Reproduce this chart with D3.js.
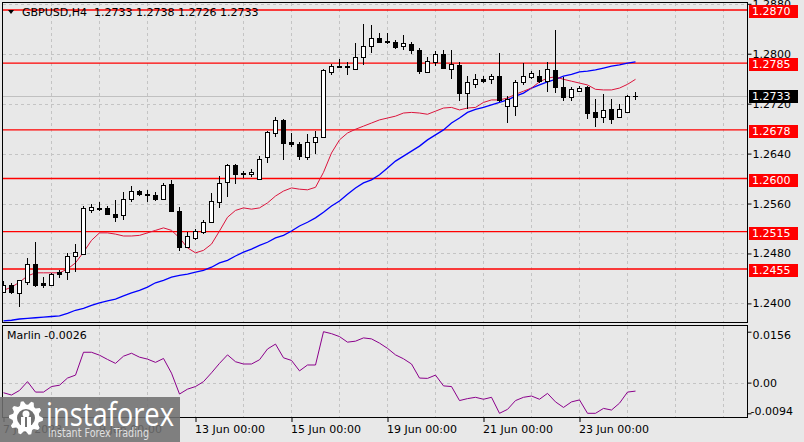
<!DOCTYPE html>
<html><head><meta charset="utf-8">
<script src="https://cdn.jsdelivr.net/npm/d3@7"></script>
<style>
html,body{margin:0;padding:0;background:#e8e8e8;}
svg{display:block;font-family:"DejaVu Sans",sans-serif;}
</style></head>
<body><svg id="c" width="804" height="442"></svg>
<script>
// ---- data ----
const symbol = "GBPUSD,H4";
const headerOHLC = "1.2733 1.2738 1.2726 1.2733";
const open = [1.2419,1.2430,1.2417,1.2434,1.2463,1.2432,1.2430,1.2451,1.2450,1.2476,
1.2479,1.2549,1.2553,1.2553,1.2543,1.2541,1.2567,1.2580,1.2575,1.2574,
1.2567,1.2591,1.2548,1.2490,1.2505,1.2515,1.2530,1.2562,1.2594,1.2622,
1.2609,1.2607,1.2600,1.2634,1.2673,1.2694,1.2658,1.2656,1.2635,1.2658,
1.2666,1.2771,1.2779,1.2781,1.2776,1.2794,1.2813,1.2825,1.2820,1.2819,
1.2813,1.2815,1.2806,1.2771,1.2786,1.2799,1.2776,1.2782,1.2737,1.2752,
1.2759,1.2759,1.2765,1.2717,1.2717,1.2754,1.2763,1.2765,1.2757,1.2774,
1.2747,1.2731,1.2741,1.2746,1.2706,1.2698,1.2711,1.2698,1.2707,1.2733];
const high = [1.2436,1.2433,1.2438,1.2472,1.2498,1.2443,1.2448,1.2453,1.2481,1.2495,
1.2556,1.2559,1.2562,1.2556,1.2566,1.2578,1.2588,1.2582,1.2582,1.2578,
1.2593,1.2597,1.2554,1.2514,1.2519,1.2533,1.2577,1.2604,1.2623,1.2623,
1.2612,1.2615,1.2636,1.2676,1.2699,1.2695,1.2673,1.2659,1.2671,1.2676,
1.2775,1.2783,1.2791,1.2787,1.2817,1.2848,1.2846,1.2834,1.2834,1.2822,
1.2830,1.2818,1.2809,1.2795,1.2804,1.2806,1.2806,1.2786,1.2764,1.2767,
1.2765,1.2767,1.2801,1.2733,1.2758,1.2785,1.2773,1.2774,1.2786,1.2838,
1.2763,1.2747,1.2749,1.2748,1.2728,1.2735,1.2727,1.2720,1.2734,1.2738];
const low = [1.2416,1.2415,1.2394,1.2429,1.2427,1.2424,1.2429,1.2440,1.2438,1.2450,
1.2477,1.2545,1.2548,1.2541,1.2531,1.2533,1.2562,1.2572,1.2562,1.2564,
1.2566,1.2546,1.2484,1.2489,1.2501,1.2511,1.2529,1.2553,1.2570,1.2591,
1.2601,1.2603,1.2599,1.2625,1.2666,1.2630,1.2650,1.2630,1.2630,1.2639,
1.2665,1.2766,1.2777,1.2766,1.2775,1.2782,1.2801,1.2817,1.2815,1.2808,
1.2806,1.2799,1.2767,1.2770,1.2781,1.2776,1.2759,1.2725,1.2711,1.2745,
1.2753,1.2751,1.2723,1.2689,1.2700,1.2750,1.2760,1.2753,1.2739,1.2737,
1.2725,1.2725,1.2739,1.2695,1.2683,1.2689,1.2687,1.2697,1.2705,1.2726];
const close = [1.2429,1.2419,1.2437,1.2463,1.2430,1.2430,1.2447,1.2447,1.2476,1.2482,
1.2553,1.2554,1.2552,1.2543,1.2539,1.2567,1.2580,1.2575,1.2574,1.2567,
1.2590,1.2548,1.2490,1.2508,1.2516,1.2530,1.2564,1.2593,1.2622,1.2607,
1.2607,1.2610,1.2632,1.2674,1.2694,1.2657,1.2656,1.2636,1.2659,1.2666,
1.2774,1.2780,1.2781,1.2778,1.2794,1.2813,1.2826,1.2819,1.2818,1.2811,
1.2817,1.2806,1.2773,1.2789,1.2799,1.2777,1.2783,1.2737,1.2755,1.2759,
1.2757,1.2764,1.2726,1.2727,1.2755,1.2765,1.2769,1.2757,1.2775,1.2747,
1.2730,1.2744,1.2745,1.2705,1.2699,1.2710,1.2696,1.2711,1.2732,1.2733];
const maFast = [1.2421,1.2426,1.2434,1.2444,1.2449,1.2449,1.2449,1.2449,1.2455,1.2465,
1.2482,1.2501,1.2513,1.2513,1.2511,1.2508,1.2508,1.2509,1.2513,1.2517,
1.2521,1.2517,1.2505,1.2489,1.2481,1.2485,1.2495,1.2516,1.2538,1.2549,
1.2553,1.2551,1.2553,1.2561,1.2572,1.2580,1.2585,1.2583,1.2582,1.2586,
1.2610,1.2641,1.2662,1.2673,1.2679,1.2684,1.2689,1.2694,1.2697,1.2700,
1.2705,1.2706,1.2705,1.2703,1.2708,1.2713,1.2714,1.2710,1.2713,1.2714,
1.2722,1.2726,1.2726,1.2729,1.2735,1.2740,1.2745,1.2755,1.2761,1.2763,
1.2759,1.2756,1.2753,1.2750,1.2743,1.2742,1.2742,1.2745,1.2751,1.2759];
const maSlow = [1.2372,1.2373,1.2375,1.2376,1.2377,1.2378,1.2379,1.2380,1.2384,1.2389,
1.2392,1.2397,1.2401,1.2404,1.2407,1.2412,1.2417,1.2421,1.2426,1.2433,
1.2437,1.2442,1.2445,1.2447,1.2450,1.2453,1.2458,1.2465,1.2469,1.2476,
1.2482,1.2487,1.2493,1.2498,1.2505,1.2509,1.2516,1.2524,1.2530,1.2537,
1.2546,1.2556,1.2564,1.2575,1.2585,1.2593,1.2598,1.2606,1.2617,1.2628,
1.2636,1.2644,1.2652,1.2662,1.2670,1.2678,1.2689,1.2697,1.2706,1.2711,
1.2714,1.2718,1.2722,1.2726,1.2732,1.2737,1.2745,1.2750,1.2755,1.2759,
1.2764,1.2767,1.2771,1.2772,1.2774,1.2777,1.2780,1.2782,1.2785,1.2787];
const marlin = [-0.0031,-0.0038,-0.0024,0.0003,-0.0029,-0.0029,-0.0012,-0.0008,0.0014,0.0023,
0.0093,0.0093,0.0084,0.0071,0.0059,0.0081,0.0090,0.0078,0.0072,0.0062,
0.0074,0.0029,-0.0035,-0.0020,-0.0012,0.0003,0.0030,0.0059,0.0085,0.0064,
0.0057,0.0057,0.0070,0.0103,0.0118,0.0076,0.0068,0.0036,0.0054,0.0054,
0.0156,0.0150,0.0141,0.0124,0.0127,0.0137,0.0134,0.0121,0.0105,0.0085,
0.0073,0.0057,0.0014,0.0013,0.0023,-0.0010,-0.0012,-0.0055,-0.0049,-0.0045,
-0.0051,-0.0045,-0.0094,-0.0082,-0.0055,-0.0045,-0.0041,-0.0051,-0.0033,-0.0059,
-0.0076,-0.0059,-0.0053,-0.0094,-0.0094,-0.0079,-0.0084,-0.0063,-0.0029,-0.0026];
const levels = [1.2870, 1.2785, 1.2678, 1.2600, 1.2515, 1.2455];
const lastPrice = 1.2733;
const priceTicks = [1.2880, 1.2800, 1.2720, 1.2640, 1.2560, 1.2480, 1.2400];
const marlinTicks = [0.0156, 0.0, -0.0094];
const marlinTickLabels = ["0.0156", "0.00", "-0.0094"];
const marlinLabel = "Marlin -0.0026";
const timeTickIdx = [0, 12, 24, 36, 48, 60, 72];
const timeTickLabels = ["7 Jun 2023", "9 Jun 00:00", "13 Jun 00:00", "15 Jun 00:00", "19 Jun 00:00", "21 Jun 00:00", "23 Jun 00:00"];
const gridIdx = d3.range(6, 91, 6);

// ---- layout ----
const svg = d3.select("#c");
const L = 3, R = 747, mainTop = 3, mainBot = 323, indTop = 326, indBot = 418;
const x = d3.scaleLinear().domain([0, 93]).range([L + 0.5, L + 0.5 + 93 * 8]);
const y = d3.scaleLinear().domain([1.2400, 1.2880]).range([303.4, 3.8]);
const yi = d3.scaleLinear().domain([-0.0094, 0.0156]).range([413.3, 331.7]);
const snap = v => Math.round(v) + 0.5;

svg.append("rect").attr("width", 804).attr("height", 442).attr("fill", "#e8e8e8");

const defs = svg.append("defs");
defs.append("clipPath").attr("id", "cm").append("rect").attr("x", L).attr("y", mainTop).attr("width", R - L).attr("height", mainBot - mainTop);
defs.append("clipPath").attr("id", "ci").append("rect").attr("x", L).attr("y", indTop).attr("width", R - L).attr("height", indBot - indTop);

const gm = svg.append("g").attr("clip-path", "url(#cm)");
const gi = svg.append("g").attr("clip-path", "url(#ci)");

// grids
const gridCol = "#c4c4c4";
gm.selectAll("line.hg").data(priceTicks).join("line")
  .attr("x1", L).attr("x2", R).attr("y1", d => snap(y(d))).attr("y2", d => snap(y(d)))
  .attr("stroke", gridCol).attr("stroke-dasharray", "3,3");
gm.selectAll("line.vg").data(gridIdx).join("line")
  .attr("x1", d => x(d)).attr("x2", d => x(d)).attr("y1", mainTop).attr("y2", mainBot)
  .attr("stroke", gridCol).attr("stroke-dasharray", "3,3");
gi.selectAll("line.vg").data(gridIdx).join("line")
  .attr("x1", d => x(d)).attr("x2", d => x(d)).attr("y1", indTop).attr("y2", indBot)
  .attr("stroke", gridCol).attr("stroke-dasharray", "3,3");
gi.append("line").attr("x1", L).attr("x2", R).attr("y1", snap(yi(0))).attr("y2", snap(yi(0)))
  .attr("stroke", gridCol).attr("stroke-dasharray", "3,3");

// current price line
gm.append("line").attr("x1", L).attr("x2", R).attr("y1", snap(y(lastPrice))).attr("y2", snap(y(lastPrice)))
  .attr("stroke", "#c0c0c0").attr("stroke-width", 1);

// level lines
gm.selectAll("line.lv").data(levels).join("line")
  .attr("x1", L).attr("x2", R).attr("y1", d => y(d)).attr("y2", d => y(d))
  .attr("stroke", "#ff0000").attr("stroke-width", 1.4);

// moving averages
const line = arr => d3.line().x((d, i) => x(i)).y(d => y(d))(arr);
gm.append("path").attr("d", line(maSlow)).attr("fill", "none").attr("stroke", "#0000ff").attr("stroke-width", 1.3);
gm.append("path").attr("d", line(maFast)).attr("fill", "none").attr("stroke", "#dc143c").attr("stroke-width", 1);

// candles
const idx = d3.range(open.length);
gm.selectAll("line.wick").data(idx).join("line")
  .attr("x1", i => x(i)).attr("x2", i => x(i))
  .attr("y1", i => Math.round(y(high[i]))).attr("y2", i => Math.round(y(low[i])))
  .attr("stroke", "#000").attr("stroke-width", 1);
gm.selectAll("rect.body").data(idx).join("rect")
  .attr("x", i => x(i) - 2)
  .attr("width", 4)
  .attr("y", i => snap(y(Math.max(open[i], close[i]))) )
  .attr("height", i => Math.max(0.01, Math.round(y(Math.min(open[i], close[i]))) - Math.round(y(Math.max(open[i], close[i])))))
  .attr("fill", i => close[i] >= open[i] ? "#ffffff" : "#000000")
  .attr("stroke", "#000").attr("stroke-width", 1);

// marlin
gi.append("path").attr("d", d3.line().x((d, i) => x(i)).y(d => yi(d))(marlin))
  .attr("fill", "none").attr("stroke", "#8b008b").attr("stroke-width", 1);

// frames
svg.append("rect").attr("x", L - 0.5).attr("y", mainTop - 0.5).attr("width", R - L + 1).attr("height", mainBot - mainTop)
  .attr("fill", "none").attr("stroke", "#000");
svg.append("rect").attr("x", L - 0.5).attr("y", indTop - 0.5).attr("width", R - L + 1).attr("height", indBot - indTop)
  .attr("fill", "none").attr("stroke", "#000");

// price axis
const ax = svg.append("g").attr("transform", `translate(${R + 0.5},0)`)
  .call(d3.axisRight(y).tickValues(priceTicks).tickFormat(d3.format(".4f")).tickSize(4).tickPadding(1));
ax.select(".domain").remove();
ax.selectAll("text").attr("font-size", 11).attr("font-family", "DejaVu Sans").attr("fill", "#000");
ax.selectAll("line").attr("stroke", "#000");

// marlin axis
const axi = svg.append("g").attr("transform", `translate(${R + 0.5},0)`)
  .call(d3.axisRight(yi).tickValues(marlinTicks).tickFormat((d, i) => marlinTickLabels[i]).tickSize(4).tickPadding(1));
axi.select(".domain").remove();
axi.selectAll("text").attr("font-size", 11).attr("font-family", "DejaVu Sans").attr("fill", "#000")
  .attr("dx", (d, i) => d < 0 ? -2 : 0)
  .attr("dy", (d) => d > 0.01 ? "0.65em" : (d < 0 ? "0.1em" : "0.32em"));
axi.selectAll("line").attr("stroke", "#000");

// level labels
const lab = svg.append("g");
levels.forEach(v => {
  const yy = Math.round(y(v));
  lab.append("rect").attr("x", 749).attr("y", yy - 5).attr("width", 49).attr("height", 13).attr("fill", "#ff0000");
  lab.append("text").attr("x", 752).attr("y", yy + 1.5).attr("dominant-baseline", "middle")
    .attr("font-size", 11).attr("fill", "#fff").text(v.toFixed(4));
});
{
  const yy = Math.round(y(lastPrice));
  lab.append("rect").attr("x", 749).attr("y", yy - 6).attr("width", 49).attr("height", 13).attr("fill", "#000");
  lab.append("text").attr("x", 752).attr("y", yy + 0.5).attr("dominant-baseline", "middle")
    .attr("font-size", 11).attr("fill", "#fff").text(lastPrice.toFixed(4));
}

// time axis
const axt = svg.append("g").attr("transform", `translate(0,${indBot})`)
  .call(d3.axisBottom(x).tickValues(timeTickIdx).tickFormat((d, i) => timeTickLabels[i]).tickSize(4).tickPadding(3));
axt.select(".domain").remove();
axt.selectAll("text").attr("font-size", 11).attr("font-family", "DejaVu Sans").attr("fill", "#000")
  .attr("text-anchor", "start").attr("dx", -1);
axt.selectAll("line").attr("stroke", "#000");

// header
svg.append("path").attr("d", "M8,10 L14,10 L11,14 Z").attr("fill", "#000");
svg.append("text").attr("x", 22).attr("y", 13).attr("dominant-baseline", "middle").attr("font-size", 11).text(symbol);
svg.append("text").attr("x", 94).attr("y", 13).attr("dominant-baseline", "middle").attr("font-size", 11).text(headerOHLC);
svg.append("text").attr("x", 7).attr("y", 336).attr("dominant-baseline", "middle").attr("font-size", 11).text(marlinLabel);

// watermark logo
const logo = svg.append("g");
logo.append("rect").attr("x", 0).attr("y", 397).attr("width", 180).attr("height", 45).attr("fill", "#707070").attr("opacity", 0.88);
const gcx = 26, gcy = 418, nT = 10;
let pts = [];
for (let k = 0; k < nT * 4; k++) {
  const a = k / (nT * 4) * 2 * Math.PI;
  const r = (k % 4 < 2) ? 17 : 13.5;
  pts.push([gcx + r * Math.cos(a), gcy + r * Math.sin(a)]);
}
logo.append("path").attr("d", "M" + pts.map(p => p.join(",")).join("L") + "Z").attr("fill", "#ffffff");
logo.append("circle").attr("cx", gcx).attr("cy", gcy).attr("r", 9).attr("fill", "#707070");
logo.append("circle").attr("cx", gcx).attr("cy", gcy - 4).attr("r", 3.5).attr("fill", "#fff");
logo.append("rect").attr("x", gcx - 5).attr("y", gcy - 1).attr("width", 10).attr("height", 10).attr("fill", "#fff");
logo.append("rect").attr("x", gcx - 1).attr("y", gcy - 1).attr("width", 2).attr("height", 10).attr("fill", "#707070");
logo.append("text").attr("x", 46).attr("y", 426).attr("font-size", 33).attr("fill", "#fff")
  .attr("font-family", "Open Sans, DejaVu Sans").attr("textLength", 128).attr("lengthAdjust", "spacingAndGlyphs").text("instaforex");
logo.append("text").attr("x", 48).attr("y", 437).attr("font-size", 11.5).attr("fill", "#e0e0e0")
  .attr("font-family", "DejaVu Sans").attr("textLength", 101).attr("lengthAdjust", "spacingAndGlyphs").text("Instant Forex Trading");
</script></body></html>
